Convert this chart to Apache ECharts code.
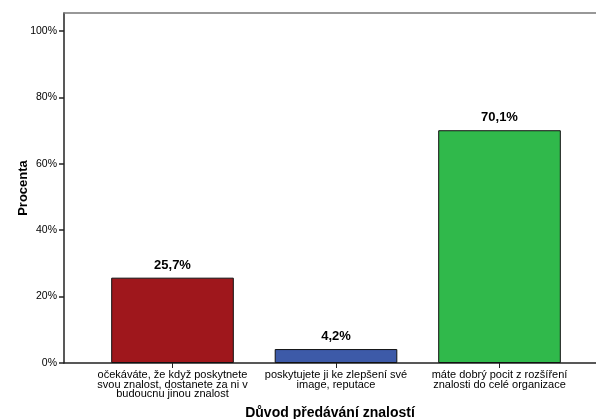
<!DOCTYPE html>
<html>
<head>
<meta charset="utf-8">
<script src="https://cdn.jsdelivr.net/npm/echarts@6/dist/echarts.min.js"></script>
<style>
  html, body { margin: 0; padding: 0; background: #fff; }
  #chart { width: 596px; height: 419px; }
</style>
</head>
<body>
<div id="chart"></div>
<script>
// Důvody předávání znalostí – podíl respondentů v procentech
const categories = [
  'očekáváte, že když poskytnete\nsvou znalost, dostanete za ni v\nbudoucnu jinou znalost',
  'poskytujete ji ke zlepšení své\nimage, reputace',
  'máte dobrý pocit z rozšíření\nznalosti do celé organizace'
];
const percentValues = [25.7, 4.2, 70.1];
const barColors = ['#9f171c', '#3d5aa8', '#30b94b'];
const yTickValues = [0, 20, 40, 60, 80, 100];

const FONT = '"Liberation Sans", Arial, sans-serif';

const chart = echarts.init(document.getElementById('chart'), null, { renderer: 'canvas' });

chart.setOption({
  animation: false,
  backgroundColor: '#ffffff',
  grid: [
    // frame with the value axis
    { left: 64, right: 0, top: 13, bottom: 56, containLabel: false, outerBoundsMode: 'none' },
    // bars, inset inside the frame
    { left: 90.75, width: 490.5, top: 13, bottom: 56, containLabel: false, outerBoundsMode: 'none' }
  ],
  xAxis: [
    {
      gridIndex: 0, type: 'category', data: [''], position: 'bottom',
      axisLine: { lineStyle: { color: '#222', width: 1.5 } },
      axisTick: { show: false }, axisLabel: { show: false },
      name: 'Důvod předávání znalostí', nameLocation: 'middle', nameGap: 43,
      nameMoveOverlap: false,
      nameTextStyle: { fontFamily: FONT, fontWeight: 'bold', fontSize: 14, color: '#000' }
    },
    {
      gridIndex: 0, type: 'category', data: [''], position: 'top',
      axisLine: { lineStyle: { color: '#777', width: 1.5 } },
      axisTick: { show: false }, axisLabel: { show: false }
    },
    {
      gridIndex: 1, type: 'category', data: categories, position: 'bottom',
      axisLine: { show: false },
      axisTick: { show: true, alignWithLabel: true, length: 5, lineStyle: { color: '#222', width: 1 } },
      axisLabel: {
        interval: 0, margin: 7, fontFamily: FONT, fontSize: 11, lineHeight: 9.7,
        color: '#000', align: 'center'
      }
    }
  ],
  yAxis: [
    {
      gridIndex: 0, type: 'value', min: 0, max: 105.4, interval: 20,
      axisLine: { show: true, lineStyle: { color: '#222', width: 1.5 } },
      axisTick: { show: true, length: 5, customValues: yTickValues, lineStyle: { color: '#222', width: 1.5 } },
      axisLabel: {
        customValues: yTickValues, margin: 7, fontFamily: FONT, fontSize: 10.5, color: '#000',
        formatter: v => v + '%'
      },
      splitLine: { show: false },
      name: 'Procenta', nameLocation: 'middle', nameGap: 34, nameRotate: 90,
      nameMoveOverlap: false,
      nameTextStyle: { fontFamily: FONT, fontWeight: 'bold', fontSize: 13, color: '#000' }
    },
    {
      gridIndex: 1, type: 'value', min: 0, max: 105.4,
      axisLine: { show: false }, axisTick: { show: false }, axisLabel: { show: false },
      splitLine: { show: false }
    }
  ],
  series: [
    {
      type: 'bar', xAxisIndex: 2, yAxisIndex: 1,
      barWidth: '75%',
      data: percentValues.map((v, i) => ({
        value: v,
        itemStyle: { color: barColors[i], borderColor: '#111', borderWidth: 1 }
      })),
      label: {
        show: true, position: 'top', distance: 6,
        fontFamily: FONT, fontWeight: 'bold', fontSize: 13, color: '#000',
        formatter: p => p.value.toFixed(1).replace('.', ',') + '%'
      }
    }
  ]
});
</script>
</body>
</html>
